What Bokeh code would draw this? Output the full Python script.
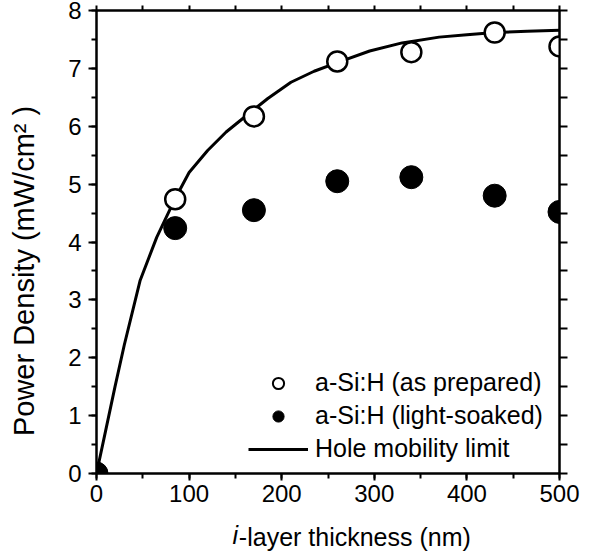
from bokeh.plotting import figure
from bokeh.models import (Range1d, LinearAxis, SingleIntervalTicker, FixedTicker,
                          Legend, LegendItem)
from bokeh.embed import file_html
from bokeh.resources import INLINE

# ---- data ----
thickness_prepared = [0, 85, 170, 260, 340, 430, 500]
power_prepared = [0, 4.74, 6.17, 7.12, 7.28, 7.62, 7.38]

thickness_soaked = [0, 85, 170, 260, 340, 430, 500]
power_soaked = [0, 4.24, 4.55, 5.05, 5.12, 4.80, 4.52]

limit_x = [0, 10, 20, 30, 47, 65, 84, 100, 120, 140, 160, 185, 210, 235, 260,
           295, 330, 370, 400, 430, 465, 500]
limit_y = [0, 0.75, 1.50, 2.22, 3.33, 4.08, 4.72, 5.20, 5.58, 5.90, 6.16, 6.48,
           6.76, 6.95, 7.10, 7.30, 7.44, 7.54, 7.58, 7.62, 7.64, 7.66]

series_labels = ["a-Si:H (as prepared)", "a-Si:H (light-soaked)", "Hole mobility limit"]
y_title = "Power Density (mW/cm² )"
x_title_italic = "i"
x_title_rest = "-layer thickness (nm)"

top_ticks = list(range(0, 501, 50))
right_ticks = [i * 0.5 for i in range(17)]

# layout constants (positions of the titles along their axes)
Y_TITLE_AT = 3.5
X_I_AT = 150
X_REST_AT = 279

FONT = "Liberation Sans"

p = figure(width=597, height=556, x_range=Range1d(0, 500), y_range=Range1d(0, 8),
           output_backend="svg", toolbar_location=None,
           min_border_left=96, min_border_right=38, min_border_top=10,
           min_border_bottom=83, x_axis_type=None, y_axis_type=None)
p.grid.visible = False
p.outline_line_color = "black"
p.outline_line_width = 2
p.background_fill_color = "white"
p.border_fill_color = "white"


def style(ax, tick_out, minor_out, size="24px"):
    ax.axis_line_width = 2
    ax.axis_line_color = "black"
    ax.major_tick_line_width = 2
    ax.minor_tick_line_width = 2
    ax.major_tick_in = 0
    ax.major_tick_out = tick_out
    ax.minor_tick_in = 0
    ax.minor_tick_out = minor_out
    ax.major_label_text_font = FONT
    ax.major_label_text_color = "black"
    ax.major_label_text_font_size = size


def text_only(ax):
    ax.axis_line_color = None
    ax.major_tick_line_color = None
    ax.minor_tick_line_color = None
    ax.major_tick_in = 0
    ax.major_tick_out = 0
    ax.minor_tick_in = 0
    ax.minor_tick_out = 0
    ax.major_label_text_font = FONT
    ax.major_label_text_color = "black"


xb = LinearAxis(ticker=SingleIntervalTicker(interval=100, num_minor_ticks=2))
style(xb, 7, 5)
xb.major_label_standoff = 4
p.add_layout(xb, "below")

# x title: italic "i" + rest, drawn as axis labels on one row
ax_i = LinearAxis(ticker=FixedTicker(ticks=[X_I_AT]),
                  major_label_overrides={X_I_AT: x_title_italic})
text_only(ax_i)
ax_i.major_label_text_font_size = "25px"
ax_i.major_label_text_font_style = "italic"
ax_i.major_label_standoff = 16
p.add_layout(ax_i, "below")

ax_t = LinearAxis(ticker=FixedTicker(ticks=[X_REST_AT]),
                  major_label_overrides={X_REST_AT: x_title_rest})
text_only(ax_t)
ax_t.major_label_text_font_size = "25px"
ax_t.major_label_standoff = -29
p.add_layout(ax_t, "below")

yl = LinearAxis(ticker=SingleIntervalTicker(interval=1, num_minor_ticks=2))
style(yl, 8, 5)
yl.major_label_standoff = 7
p.add_layout(yl, "left")

ax_y = LinearAxis(ticker=FixedTicker(ticks=[Y_TITLE_AT]),
                  major_label_overrides={Y_TITLE_AT: y_title})
text_only(ax_y)
ax_y.major_label_text_font_size = "29px"
ax_y.major_label_orientation = "vertical"
ax_y.major_label_standoff = 26
p.add_layout(ax_y, "left")

# unlabeled tick axes on top and right
xt = LinearAxis(ticker=FixedTicker(ticks=top_ticks),
                major_label_overrides={t: "" for t in top_ticks})
style(xt, 5, 0, size="1px")
xt.major_label_standoff = 0
p.add_layout(xt, "above")

yr = LinearAxis(ticker=FixedTicker(ticks=right_ticks),
                major_label_overrides={t: "" for t in right_ticks})
style(yr, 8, 0, size="1px")
yr.major_label_standoff = 0
p.add_layout(yr, "right")

# curve and markers
p.line(limit_x, limit_y, line_width=3, line_color="black")
p.scatter(thickness_prepared, power_prepared, size=20, marker="circle",
          fill_color="white", line_color="black", line_width=2.5)
p.scatter(thickness_soaked, power_soaked, size=23, marker="circle",
          fill_color="black", line_color="black", line_width=1)

# legend proxies (placed outside the visible ranges)
lp = p.scatter([-100], [-100], marker="circle", fill_color="white",
               line_color="black", line_width=2)
ls = p.scatter([-100], [-100], marker="circle", fill_color="black",
               line_color="black", line_width=1)
ll = p.line([-100, -90], [-100, -100], line_width=3, line_color="black")
legend = Legend(items=[LegendItem(label=series_labels[0], renderers=[lp]),
                       LegendItem(label=series_labels[1], renderers=[ls]),
                       LegendItem(label=series_labels[2], renderers=[ll])],
                location=(152, 10), padding=0, margin=0, spacing=4,
                glyph_width=60, glyph_height=28, label_height=28,
                label_standoff=7, border_line_color=None,
                background_fill_alpha=0,
                label_text_font=FONT, label_text_font_size="25px",
                label_text_color="black")
p.add_layout(legend)

open("out.html", "w").write(file_html(p, INLINE))
